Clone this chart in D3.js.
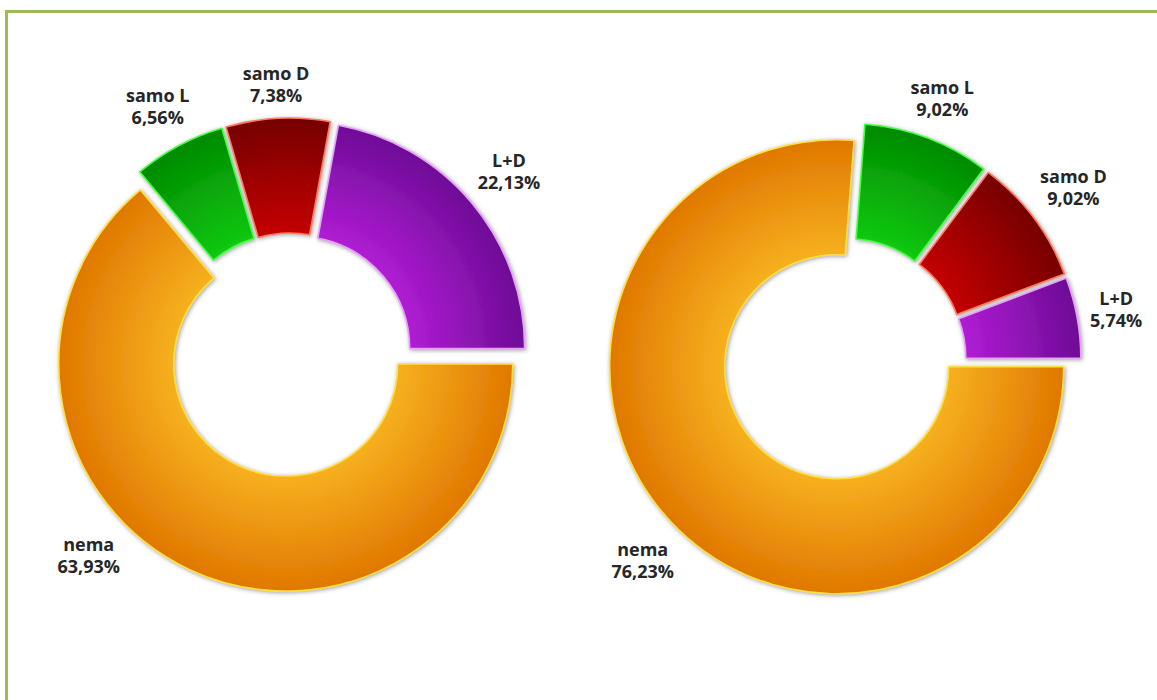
<!DOCTYPE html>
<html>
<head>
<meta charset="utf-8">
<script src="https://cdn.jsdelivr.net/npm/d3@7"></script>
<style>
  body { margin: 0; background: #fff; }
  text { font-family: "Open Sans", sans-serif; font-weight: 700; font-size: 18px; fill: #262626; }
</style>
</head>
<body>
<svg id="chart"></svg>
<script>
// data
let categories = ['nema', 'samo L', 'samo D', 'L+D'];
let leftValues = [63.93, 6.56, 7.38, 22.13];
let rightValues = [76.23, 9.02, 9.02, 5.74];

// slice colours: light near the hole, dark at the rim, light outline
let innerColors = ['#f6b020', '#12c812', '#c40000', '#b01cd4'];
let outerColors = ['#e07800', '#008a00', '#760000', '#6e0c96'];
let strokeColors = ['#ffe040', '#44ff44', '#ff7a5a', '#e8a0f8'];

let W = 1157, H = 700;
let outerR = 227, innerR = 112, explode = 10;

let svg = d3.select('#chart')
  .attr('width', W)
  .attr('height', H);

let defs = svg.append('defs');
let shadow = defs.append('filter').attr('id', 'shadow')
  .attr('x', '-20%').attr('y', '-20%').attr('width', '140%').attr('height', '140%');
shadow.append('feGaussianBlur').attr('in', 'SourceAlpha').attr('stdDeviation', 2.2).attr('result', 'blur');
shadow.append('feOffset').attr('in', 'blur').attr('dx', 1).attr('dy', 1).attr('result', 'off');
shadow.append('feFlood').attr('flood-color', '#808080').attr('flood-opacity', 0.75);
shadow.append('feComposite').attr('in2', 'off').attr('operator', 'in').attr('result', 'sh');
let merge = shadow.append('feMerge');
merge.append('feMergeNode').attr('in', 'sh');
merge.append('feMergeNode').attr('in', 'SourceGraphic');

categories.forEach(function(c, i) {
  let g = defs.append('radialGradient')
    .attr('id', 'grad' + i)
    .attr('gradientUnits', 'userSpaceOnUse')
    .attr('cx', 0).attr('cy', 0).attr('r', outerR);
  g.append('stop').attr('offset', innerR / outerR).attr('stop-color', innerColors[i]);
  g.append('stop').attr('offset', 1).attr('stop-color', outerColors[i]);
});

// green frame (runs off the right and bottom of the picture)
svg.append('rect')
  .attr('x', 6.5).attr('y', 11.5)
  .attr('width', W + 40).attr('height', H + 40)
  .attr('fill', 'none')
  .attr('stroke', '#9bbb59')
  .attr('stroke-width', 3);

let fmt = d3.formatLocale({decimal: ',', thousands: '.', grouping: [3], currency: ['', '']}).format('.2f');

let pie = d3.pie()
  .sort(null)
  .value(function(d) { return d; })
  .startAngle(Math.PI / 2)
  .endAngle(Math.PI / 2 + 2 * Math.PI);

let arc = d3.arc().innerRadius(innerR).outerRadius(outerR);

let charts = [
  {values: leftValues, cx: 290, cy: 355},
  {values: rightValues, cx: 844, cy: 360}
];

let midAngle = function(d) { return (d.startAngle + d.endAngle) / 2; };
// the big "nema" label sits on the lower-left diagonal in both charts
let labelAngle = function(d) { return d.index === 0 ? 5 * Math.PI / 4 : midAngle(d); };

charts.forEach(function(ch) {
  let g = svg.append('g').attr('transform', 'translate(' + ch.cx + ',' + ch.cy + ')');
  let arcs = pie(ch.values);

  g.selectAll('g.slice')
    .data(arcs)
    .enter().append('g')
    .attr('class', 'slice')
    .attr('transform', function(d) {
      let a = midAngle(d);
      return 'translate(' + explode * Math.sin(a) + ',' + (-explode * Math.cos(a)) + ')';
    })
    .append('path')
    .attr('d', arc)
    .attr('fill', function(d) { return 'url(#grad' + d.index + ')'; })
    .attr('stroke', function(d) { return strokeColors[d.index]; })
    .attr('stroke-width', 1.6)
    .attr('stroke-linejoin', 'round')
    .attr('filter', 'url(#shadow)');

  let labels = g.selectAll('text.lbl')
    .data(arcs)
    .enter().append('text')
    .attr('class', 'lbl')
    .attr('text-anchor', 'middle');
  labels.append('tspan').attr('x', 0).attr('y', -5)
    .text(function(d) { return categories[d.index]; });
  labels.append('tspan').attr('x', 0).attr('y', 17)
    .text(function(d) { return fmt(d.value) + '%'; });

  labels.attr('transform', function(d) {
    let a = labelAngle(d);
    let w = this.getBBox().width;
    let ext = Math.abs(Math.sin(a)) * w / 2 + Math.abs(Math.cos(a)) * 22;
    let rr = outerR + explode + 10 + ext;
    return 'translate(' + rr * Math.sin(a) + ',' + (-rr * Math.cos(a)) + ')';
  });
});
</script>
</body>
</html>
